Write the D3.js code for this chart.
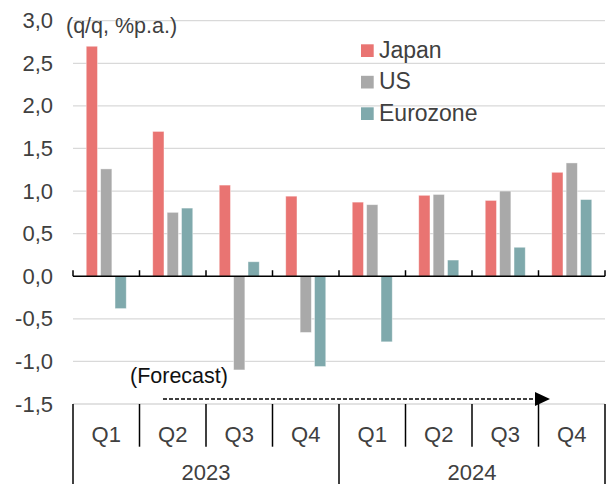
<!DOCTYPE html>
<html>
<head>
<meta charset="utf-8">
<script src="https://cdn.jsdelivr.net/npm/d3@7"></script>
<style>
  html, body { margin: 0; padding: 0; background: #fff; }
  text { font-family: "Liberation Sans", Arial, sans-serif; fill: #404040; }
</style>
</head>
<body>
<svg id="chart" width="608" height="484"></svg>
<script>
const quarters = ["Q1", "Q2", "Q3", "Q4", "Q1", "Q2", "Q3", "Q4"];
const years = ["2023", "2024"];
const series = ["Japan", "US", "Eurozone"];
const japan = [2.70, 1.70, 1.07, 0.94, 0.87, 0.95, 0.89, 1.22];
const us = [1.26, 0.75, -1.10, -0.66, 0.84, 0.96, 1.00, 1.33];
const eurozone = [-0.38, 0.80, 0.17, -1.06, -0.77, 0.19, 0.34, 0.90];
const yTicks = [3.0, 2.5, 2.0, 1.5, 1.0, 0.5, 0.0, -0.5, -1.0, -1.5];
const colors = ["#E97472", "#A9A9A9", "#7FA9AC"];

const values = [japan, us, eurozone];
const cats = quarters.map((q, i) => i);

const svg = d3.select("#chart");
const pLeft = 73, pRight = 605, pTop = 20.7, pBottom = 404;

const x0 = d3.scaleBand().domain(cats).range([pLeft, pRight]).paddingInner(0).paddingOuter(0);
const x1 = d3.scaleBand().domain(series).range([0, x0.bandwidth()]).paddingInner(0.22).paddingOuter(0.92);
const y = d3.scaleLinear().domain([-1.5, 3]).range([pBottom, pTop]);

// gridlines
svg.append("g").selectAll("line").data(yTicks.filter(v => v !== 0)).join("line")
  .attr("x1", pLeft).attr("x2", pRight)
  .attr("y1", d => y(d)).attr("y2", d => y(d))
  .attr("stroke", "#D9D9D9").attr("stroke-width", 1.3);

// y tick labels
const fmt = v => d3.format(".1f")(v).replace(".", ",").replace("−", "-");
svg.append("g").selectAll("text").data(yTicks).join("text")
  .attr("x", 53).attr("y", d => y(d) + 7.5)
  .attr("text-anchor", "end").attr("font-size", 22)
  .text(d => fmt(d));

// bars
const groups = svg.append("g").selectAll("g").data(cats).join("g")
  .attr("transform", c => `translate(${x0(c)},0)`);
groups.selectAll("rect").data(c => series.map((s, k) => ({ s, k, v: values[k][c] }))).join("rect")
  .attr("x", d => x1(d.s))
  .attr("width", x1.bandwidth())
  .attr("y", d => y(Math.max(0, d.v)))
  .attr("height", d => Math.abs(y(d.v) - y(0)))
  .attr("fill", d => colors[d.k])
  .attr("stroke", "#ffffff").attr("stroke-opacity", 0.5).attr("stroke-width", 0.8);

// zero axis with upward ticks
const zeroY = y(0);
svg.append("line").attr("x1", pLeft).attr("x2", pRight).attr("y1", zeroY).attr("y2", zeroY)
  .attr("stroke", "#000").attr("stroke-width", 1.5);
const bounds = d3.range(cats.length + 1).map(i => pLeft + i * x0.bandwidth());
svg.append("g").selectAll("line").data(bounds).join("line")
  .attr("x1", d => d).attr("x2", d => d)
  .attr("y1", zeroY).attr("y2", zeroY - 6)
  .attr("stroke", "#000").attr("stroke-width", 1.5);

// category axis (multi-level)
svg.append("g").selectAll("line").data(bounds).join("line")
  .attr("x1", d => d).attr("x2", d => d)
  .attr("y1", pBottom)
  .attr("y2", (d, i) => (i % 4 === 0) ? 484 : 446.7)
  .attr("stroke", "#000").attr("stroke-width", 1.5);

svg.append("g").selectAll("text").data(cats).join("text")
  .attr("x", c => x0(c) + x0.bandwidth() / 2).attr("y", 441.5)
  .attr("text-anchor", "middle").attr("font-size", 22)
  .text(c => quarters[c]);

svg.append("g").selectAll("text").data(years).join("text")
  .attr("x", (d, i) => x0(i * 4) + x0.bandwidth() * 2).attr("y", 480)
  .attr("text-anchor", "middle").attr("font-size", 22)
  .text(d => d);

// unit label
svg.append("text").attr("x", 66).attr("y", 33).attr("font-size", 21.5).text("(q/q, %p.a.)");

// legend
const lg = svg.append("g").selectAll("g").data(series).join("g")
  .attr("transform", (d, i) => `translate(361,${44.3 + i * 31.5})`);
lg.append("rect").attr("width", 12.7).attr("height", 12.7).attr("fill", (d, i) => colors[i]);
lg.append("text").attr("x", 18).attr("y", 13.3).attr("font-size", 23).text(d => d);

// forecast annotation
svg.append("text").attr("x", 130).attr("y", 383).attr("font-size", 21.5)
  .style("fill", "#111").text("(Forecast)");
svg.append("line").attr("x1", 163).attr("x2", 537).attr("y1", 399).attr("y2", 399)
  .attr("stroke", "#000").attr("stroke-width", 1.5).attr("stroke-dasharray", "4,2");
svg.append("path").attr("d", "M535,392 L550,399 L535,406 Z").attr("fill", "#000");
</script>
</body>
</html>
